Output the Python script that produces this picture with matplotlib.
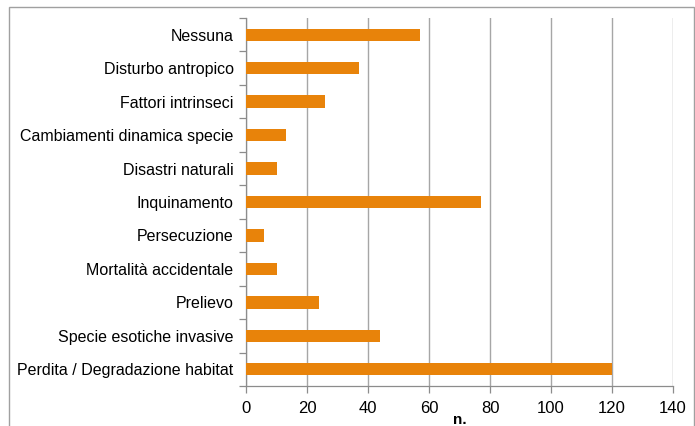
import matplotlib
matplotlib.use("Agg")
import matplotlib.pyplot as plt
import numpy as np
from matplotlib.patches import Rectangle

plt.rcParams['font.family'] = ['Liberation Sans', 'DejaVu Sans']

# Threat categories (bottom to top) and number of cases
categories = [
    "Perdita / Degradazione habitat",
    "Specie esotiche invasive",
    "Prelievo",
    "Mortalità accidentale",
    "Persecuzione",
    "Inquinamento",
    "Disastri naturali",
    "Cambiamenti dinamica specie",
    "Fattori intrinseci",
    "Disturbo antropico",
    "Nessuna",
]
values = [120, 44, 24, 10, 6, 77, 10, 13, 26, 37, 57]
x_ticks = [0, 20, 40, 60, 80, 100, 120, 140]
x_label = "n."

W, H = 695, 426
fig = plt.figure(figsize=(W / 100, H / 100), dpi=100)
ax = fig.add_axes([246 / W, 1 - 386 / H, (673 - 246) / W, (386 - 18) / H])

bar_color = "#E8830A"
grid_color = "#A6A6A6"
spine_color = "#8C8C8C"

y = np.arange(len(categories))
ax.barh(y, values, height=0.37, color=bar_color, zorder=3)

ax.set_xlim(0, 140)
ax.set_ylim(-0.5, len(categories) - 0.5)
ax.set_xticks(x_ticks)
ax.set_xticklabels([str(t) for t in x_ticks], fontsize=12)
ax.set_yticks(y)
ax.set_yticklabels(categories, fontsize=11.5)
ax.tick_params(axis="y", length=0, pad=9)
ax.tick_params(axis="x", length=5, color=spine_color, width=0.9, pad=6)

# Category separator ticks on the left axis
ax.set_yticks(np.arange(-0.5, len(categories)), minor=True)
ax.tick_params(axis="y", which="minor", length=5, color=spine_color, width=0.9)

ax.xaxis.grid(True, color=grid_color, linewidth=1.0, zorder=0)
ax.set_axisbelow(True)
for s in ("top", "right"):
    ax.spines[s].set_visible(False)
for s in ("left", "bottom"):
    ax.spines[s].set_color(spine_color)
    ax.spines[s].set_linewidth(0.9)

ax.set_xlabel(x_label, fontsize=11, fontweight="bold", labelpad=-2)

# Outer chart frame
fig.patches.append(Rectangle((9 / W, -0.05), (694 - 9) / W, 1.05 - 7 / H,
                             transform=fig.transFigure, fill=False,
                             edgecolor="#A0A0A0", linewidth=1.0))

fig.savefig("out.png", dpi=100)
